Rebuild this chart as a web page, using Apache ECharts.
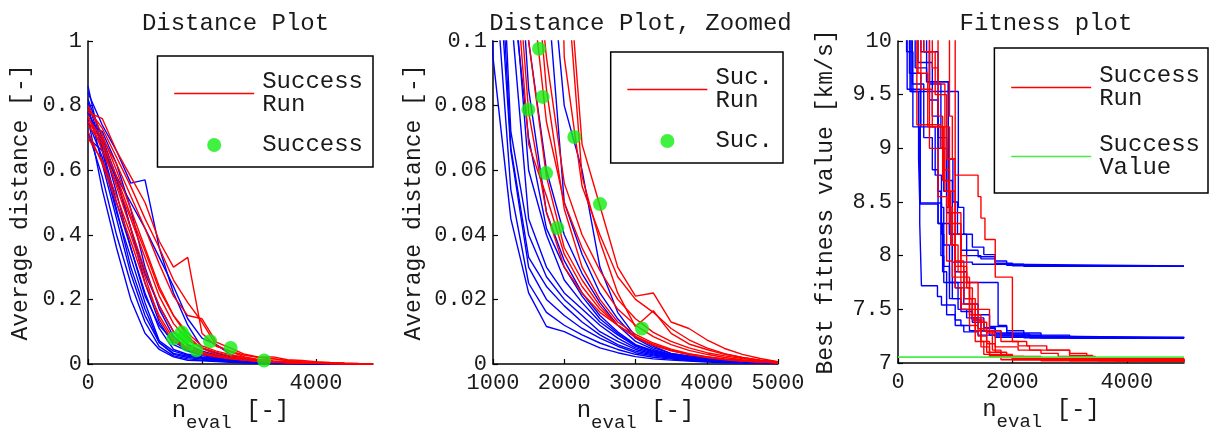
<!DOCTYPE html>
<html><head><meta charset="utf-8">
<script src="https://cdn.jsdelivr.net/npm/echarts@6/dist/echarts.min.js"></script>
<style>html,body{margin:0;padding:0;background:#fff}#c{width:1209px;height:428px}</style>
</head><body><div id="c"></div>
<script>
// ---------- DATA ----------
const evalPoints = [0,250,500,750,1000,1250,1500,1750,2000,2250,2500,2750,3000,3250,3500,3750,4000,4250,4500,4750,5000];

// average distance, runs that did not succeed (blue)
const distanceBlue = [
  [0.76,0.54,0.36,0.20,0.095,0.045,0.022,0.0116,0.010,0.0074,0.0050,0.0035,0.0023,0.0016,0.0012,0.0009,0.0006,0.0004,0.0003,0.0002,0.0001],
  [0.72,0.58,0.40,0.25,0.13,0.054,0.025,0.016,0.012,0.0090,0.0065,0.0045,0.0030,0.0021,0.0015,0.0011,0.0008,0.0006,0.0004,0.0003,0.0002],
  [0.80,0.62,0.45,0.28,0.15,0.066,0.030,0.020,0.015,0.011,0.0080,0.0055,0.0035,0.0025,0.0018,0.0013,0.0009,0.0007,0.0005,0.0003,0.0002],
  [0.86,0.66,0.48,0.30,0.17,0.067,0.033,0.024,0.018,0.013,0.0090,0.0060,0.0040,0.0028,0.0020,0.0014,0.0010,0.0007,0.0005,0.0004,0.0002],
  [0.75,0.64,0.47,0.33,0.19,0.072,0.040,0.027,0.020,0.015,0.010,0.0070,0.0045,0.0031,0.0022,0.0016,0.0011,0.0008,0.0006,0.0004,0.0002],
  [0.78,0.69,0.53,0.36,0.22,0.11,0.045,0.030,0.022,0.017,0.012,0.0080,0.0050,0.0034,0.0024,0.0017,0.0012,0.0009,0.0006,0.0004,0.0003],
  [0.82,0.70,0.58,0.42,0.25,0.13,0.060,0.040,0.026,0.019,0.013,0.0090,0.0055,0.0037,0.0026,0.0019,0.0013,0.0010,0.0007,0.0005,0.0003],
  [0.74,0.72,0.62,0.48,0.30,0.17,0.085,0.047,0.032,0.022,0.015,0.0100,0.0060,0.0041,0.0028,0.0020,0.0014,0.0010,0.0007,0.0005,0.0003],
  [0.84,0.74,0.66,0.56,0.57,0.36,0.22,0.12,0.050,0.034,0.022,0.0140,0.0080,0.0050,0.0033,0.0024,0.0017,0.0012,0.0009,0.0006,0.0004],
  [0.70,0.66,0.58,0.50,0.42,0.33,0.24,0.14,0.080,0.060,0.030,0.0160,0.0085,0.0055,0.0032,0.0025,0.0018,0.0013,0.0010,0.0007,0.0004],
  [0.78,0.68,0.57,0.42,0.28,0.18,0.10,0.060,0.040,0.028,0.019,0.0120,0.0070,0.0045,0.0030,0.0022,0.0016,0.0011,0.0008,0.0006,0.0003],
  [0.81,0.67,0.50,0.36,0.21,0.12,0.070,0.042,0.030,0.021,0.014,0.0095,0.0058,0.0039,0.0027,0.0019,0.0014,0.0010,0.0007,0.0005,0.0003]
];

// average distance, successful runs (red)
const distanceRed = [
  [0.72,0.62,0.50,0.38,0.25,0.15,0.078,0.047,0.030,0.022,0.016,0.012,0.0085,0.0060,0.0043,0.0030,0.0022,0.0015,0.0010,0.0007,0.0004],
  [0.80,0.71,0.60,0.48,0.36,0.24,0.15,0.085,0.048,0.030,0.020,0.013,0.0092,0.0065,0.0046,0.0032,0.0023,0.0016,0.0011,0.0007,0.0004],
  [0.77,0.66,0.56,0.45,0.33,0.21,0.125,0.075,0.050,0.036,0.025,0.017,0.012,0.0085,0.0060,0.0042,0.0030,0.0020,0.0013,0.0008,0.0005],
  [0.74,0.68,0.55,0.42,0.29,0.18,0.10,0.058,0.036,0.026,0.018,0.012,0.0085,0.0060,0.0042,0.0030,0.0021,0.0014,0.0009,0.0006,0.0004],
  [0.70,0.63,0.52,0.40,0.27,0.14,0.068,0.052,0.034,0.024,0.017,0.012,0.0082,0.0058,0.0041,0.0029,0.0020,0.0014,0.0009,0.0006,0.0004],
  [0.78,0.76,0.66,0.58,0.50,0.38,0.30,0.33,0.095,0.055,0.040,0.027,0.020,0.016,0.011,0.0075,0.0050,0.0032,0.0020,0.0012,0.0006],
  [0.76,0.70,0.62,0.52,0.42,0.31,0.21,0.15,0.14,0.068,0.049,0.030,0.021,0.022,0.013,0.011,0.0075,0.0048,0.0030,0.0017,0.0007],
  [0.79,0.73,0.64,0.55,0.45,0.36,0.26,0.19,0.13,0.058,0.038,0.022,0.0115,0.0165,0.0095,0.0062,0.0045,0.0030,0.0020,0.0012,0.0006],
  [0.75,0.69,0.58,0.46,0.35,0.23,0.15,0.095,0.056,0.040,0.029,0.020,0.014,0.0098,0.0070,0.0050,0.0035,0.0025,0.0017,0.0011,0.0006]
];

// success points [n_eval, average distance]
const successPoints = [[1496,0.0787],[1646,0.0976],[1697,0.0827],[1744,0.0591],[1903,0.0421],[2141,0.0703],[2502,0.0495],[3090,0.011]];

// best fitness (step), non-successful runs (blue)  [n_eval, value]
const fitnessBlue = [
  [[0,12],[160,9.55],[390,8.48],[700,8.3],[900,8.2],[1100,8.05],[1400,7.99],[1700,7.93],[2000,7.905],[3000,7.9],[5000,7.9]],
  [[0,12],[210,9.53],[1055,8.45],[1150,8.2],[1300,8.08],[1500,8.01],[1700,7.95],[1900,7.91],[2500,7.9],[5000,7.9]],
  [[0,12],[500,9.62],[880,8.9],[960,8.5],[1040,8.2],[1200,8.0],[1450,7.97],[1700,7.92],[2200,7.9],[5000,7.9]],
  [[0,12],[400,9.9],[700,9.1],[850,8.4],[950,7.94],[1300,7.92],[1800,7.905],[5000,7.9]],
  [[0,12],[150,9.9],[260,9.2],[380,8.3],[410,7.72],[690,7.62],[760,7.54],[850,7.45],[1000,7.35],[1150,7.29],[1400,7.26],[1700,7.24],[2200,7.232],[5000,7.23]],
  [[0,12],[230,9.53],[360,8.9],[380,8.49],[760,8.2],[800,7.9],[900,7.6],[1100,7.48],[1300,7.38],[1500,7.3],[1800,7.26],[2500,7.235],[5000,7.23]],
  [[0,12],[300,9.75],[500,9.62],[880,8.7],[950,8.1],[1000,7.7],[1150,7.55],[1300,7.42],[1500,7.33],[1700,7.28],[2000,7.25],[2800,7.235],[5000,7.23]],
  [[0,12],[350,9.8],[600,9.3],[700,8.6],[750,8.0],[800,7.75],[950,7.6],[1100,7.5],[1300,7.4],[1450,7.3],[1700,7.25],[2500,7.232],[5000,7.23]],
  [[0,12],[250,9.6],[450,9.1],[600,8.8],[700,8.3],[780,7.85],[850,7.54],[1000,7.4],[1100,7.35],[1250,7.3],[1600,7.26],[2200,7.235],[5000,7.23]],
  [[0,12],[450,9.9],[550,9.45],[700,9.0],[800,8.6],[900,8.2],[1000,7.85],[1200,7.75],[1750,7.35],[1900,7.3],[2200,7.26],[3000,7.232],[5000,7.23]],
  [[0,12],[200,9.7],[400,9.2],[650,8.75],[760,8.45],[800,8.1],[900,7.75],[1050,7.5],[1200,7.42],[1400,7.32],[1700,7.27],[2300,7.235],[5000,7.23]],
  [[0,12],[550,9.6],[750,9.0],[850,8.45],[950,7.75],[1150,7.6],[1300,7.55],[1400,7.45],[1600,7.34],[1900,7.28],[2500,7.24],[5000,7.23]]
];

// best fitness (step), successful runs (red)
const fitnessRed = [
  [[0,12],[1000,8.75],[1400,8.55],[1450,8.35],[1520,8.15],[1700,7.8],[2000,7.2],[2250,7.16],[2600,7.12],[3000,7.09],[3300,7.06],[3450,7.03],[3800,7.015],[5000,7.01]],
  [[0,12],[330,9.22],[740,9.0],[800,8.7],[880,8.45],[950,8.1],[1050,7.85],[1150,7.6],[1300,7.4],[1500,7.3],[1650,7.12],[1800,7.06],[2200,7.04],[3000,7.02],[5000,7.01]],
  [[0,12],[350,9.7],[520,9.2],[800,8.8],[900,8.3],[1000,7.9],[1150,7.7],[1250,7.45],[1400,7.32],[1550,7.1],[1800,7.05],[2500,7.02],[5000,7.008]],
  [[0,12],[600,9.75],[700,9.6],[820,8.6],[920,8.1],[1000,7.7],[1100,7.55],[1250,7.5],[1400,7.38],[1550,7.28],[1700,7.1],[1900,7.06],[2500,7.03],[5000,7.012]],
  [[0,12],[900,9.3],[950,8.9],[1000,8.4],[1100,8.0],[1200,7.75],[1400,7.5],[1600,7.3],[1800,7.2],[2100,7.16],[2300,7.12],[3000,7.07],[3400,7.04],[3800,7.02],[5000,7.012]],
  [[0,12],[450,9.9],[650,9.5],[850,8.9],[1000,8.2],[1100,7.9],[1200,7.7],[1300,7.45],[1450,7.2],[1600,7.06],[1800,7.03],[3000,7.015],[5000,7.01]],
  [[0,12],[700,9.3],[780,8.7],[900,8.4],[1000,7.95],[1150,7.75],[1250,7.6],[1350,7.2],[1500,7.08],[2000,7.03],[5000,7.008]],
  [[0,12],[550,9.0],[700,8.55],[850,7.95],[950,7.8],[1100,7.5],[1250,7.35],[1400,7.25],[1550,7.18],[1700,7.15],[2100,7.12],[2500,7.09],[2800,7.06],[3300,7.04],[3500,7.02],[5000,7.01]],
  [[0,12],[400,9.55],[600,9.2],[900,8.6],[1000,8.3],[1100,7.8],[1250,7.55],[1350,7.3],[1450,7.15],[1600,7.07],[2000,7.04],[5000,7.01]]
];

const successValue = 7.055;
const fitnessXRange = [0, 5000];

const titles = ['Distance Plot', 'Distance Plot, Zoomed', 'Fitness plot'];
const legendNames = {
  'Success Run': 'Success\nRun', 'Success': 'Success',
  'Suc. Run': 'Suc.\nRun', 'Suc.': 'Suc.', 'Success Value': 'Success\nValue'
};

// ---------- CHART ----------
const FONT = '"Liberation Mono", "DejaVu Sans Mono", monospace';
const TXT = '#1a1a1a';
const BLUE = '#0000ff', RED = '#ff0000', GREEN = '#11ee11', GREEN_LINE = '#44ee44';

const grids = [
  {left: 88, right: 836, top: 41, bottom: 64, containLabel: false, outerBoundsMode: 'none'},
  {left: 493, right: 431, top: 41, bottom: 64, containLabel: false, outerBoundsMode: 'none'},
  {left: 898, right: 25, top: 41, bottom: 65, containLabel: false, outerBoundsMode: 'none'}
];
const centers = [230.5, 635.5, 1041];

function axisCommon() {
  return {
    axisLine: {show: true, onZero: false, lineStyle: {color: '#000', width: 1.5}},
    axisTick: {show: true, inside: true, length: 5, lineStyle: {color: '#000', width: 1.2}},
    splitLine: {show: false},
    axisLabel: {fontFamily: FONT, fontSize: 22, color: TXT, formatter: v => String(v)},
    nameTextStyle: {fontFamily: FONT, fontSize: 23, color: TXT}
  };
}
const xNameText = '{n|n}{s|eval}{n| [-]}';
const xNameStyle = {
  rich: {
    n: {fontFamily: FONT, fontSize: 24, color: TXT},
    s: {fontFamily: FONT, fontSize: 19, color: TXT, padding: [24, 0, 0, 0]}
  }
};

const xAxes = [
  Object.assign(axisCommon(), {type: 'value', gridIndex: 0, min: 0, max: 5000, interval: 2000}),
  Object.assign(axisCommon(), {type: 'value', gridIndex: 1, min: 1000, max: 5000, interval: 1000}),
  Object.assign(axisCommon(), {type: 'value', gridIndex: 2, min: fitnessXRange[0], max: fitnessXRange[1], interval: 2000})
];
xAxes.forEach((a, i) => {
  a.name = xNameText; a.nameLocation = 'middle'; a.nameGap = 24;
  a.nameTextStyle = xNameStyle;
  a.axisLabel.margin = 8;
  if (i !== 1) a.axisLabel.showMaxLabel = false;
});

const yAxes = [
  Object.assign(axisCommon(), {type: 'value', gridIndex: 0, min: 0, max: 1, interval: 0.2,
    name: 'Average distance [-]', nameLocation: 'middle', nameGap: 56}),
  Object.assign(axisCommon(), {type: 'value', gridIndex: 1, min: 0, max: 0.1, interval: 0.02,
    name: 'Average distance [-]', nameLocation: 'middle', nameGap: 68}),
  Object.assign(axisCommon(), {type: 'value', gridIndex: 2, min: 7, max: 10, interval: 0.5,
    name: 'Best fitness value [km/s]', nameLocation: 'middle', nameGap: 61})
];
yAxes.forEach(a => { a.axisLabel.margin = 6; });

const series = [];
function lineSeries(name, data, color, p, extra) {
  return Object.assign({
    type: 'line', name: name, xAxisIndex: p, yAxisIndex: p, data: data,
    symbol: 'none', showSymbol: false, silent: true, clip: true,
    color: color, lineStyle: {color: color, width: 1.4}, z: 2
  }, extra || {});
}
[0, 1].forEach(p => {
  distanceBlue.forEach((run, k) => {
    series.push(lineSeries('blue' + p + '_' + k, evalPoints.map((x, i) => [x, run[i]]), BLUE, p));
  });
  distanceRed.forEach(run => {
    series.push(lineSeries(p === 0 ? 'Success Run' : 'Suc. Run', evalPoints.map((x, i) => [x, run[i]]), RED, p, {z: 3}));
  });
  series.push({
    type: 'scatter', name: p === 0 ? 'Success' : 'Suc.', xAxisIndex: p, yAxisIndex: p,
    data: successPoints, symbol: 'circle', symbolSize: 14, silent: true,
    itemStyle: {color: GREEN}, z: 5
  });
});
fitnessBlue.forEach((run, k) => {
  series.push(lineSeries('fblue' + k, run, BLUE, 2, {step: 'end'}));
});
fitnessRed.forEach(run => {
  series.push(lineSeries('Success Run', run, RED, 2, {step: 'end', z: 3}));
});
series.push(lineSeries('Success Value', fitnessXRange.map(x => [x, successValue]), GREEN_LINE, 2, {z: 4, lineStyle: {color: GREEN_LINE, width: 1.6}}));

const hideSym = {opacity: 0};
function legend(items, right, top, padding, gap) {
  return {
    orient: 'vertical', right: right, top: top, data: items,
    itemWidth: 80, itemHeight: 14, itemGap: gap, padding: padding,
    borderColor: '#000', borderWidth: 1.5, backgroundColor: '#fff',
    selectedMode: false, z: 10,
    formatter: n => legendNames[n],
    textStyle: {fontFamily: FONT, fontSize: 24, lineHeight: 23, color: TXT, padding: [0, 0, 0, 3]}
  };
}

const option = {
  animation: false,
  backgroundColor: '#fff',
  title: titles.map((t, i) => ({
    text: t, left: centers[i], top: 7, textAlign: 'center',
    textStyle: {fontFamily: FONT, fontSize: 24, fontWeight: 'normal', color: TXT}
  })),
  grid: grids,
  xAxis: xAxes,
  yAxis: yAxes,
  legend: [
    legend([{name: 'Success Run', itemStyle: hideSym, lineStyle: {color: RED, width: 1.4}}, {name: 'Success', icon: 'circle'}], 836, 56, [14, 10, 10, 16], 16),
    legend([{name: 'Suc. Run', itemStyle: hideSym, lineStyle: {color: RED, width: 1.4}}, {name: 'Suc.', icon: 'circle'}], 426, 52, [14, 10, 10, 16], 16),
    legend([{name: 'Success Run', itemStyle: hideSym, lineStyle: {color: RED, width: 1.4}}, {name: 'Success Value', itemStyle: hideSym, lineStyle: {color: GREEN_LINE, width: 1.6}}], 1, 48, [16, 8, 13, 16], 22)
  ],
  series: series
};

const chart = echarts.init(document.getElementById('c'), null, {renderer: 'canvas'});
chart.setOption(option);
</script>
</body></html>
